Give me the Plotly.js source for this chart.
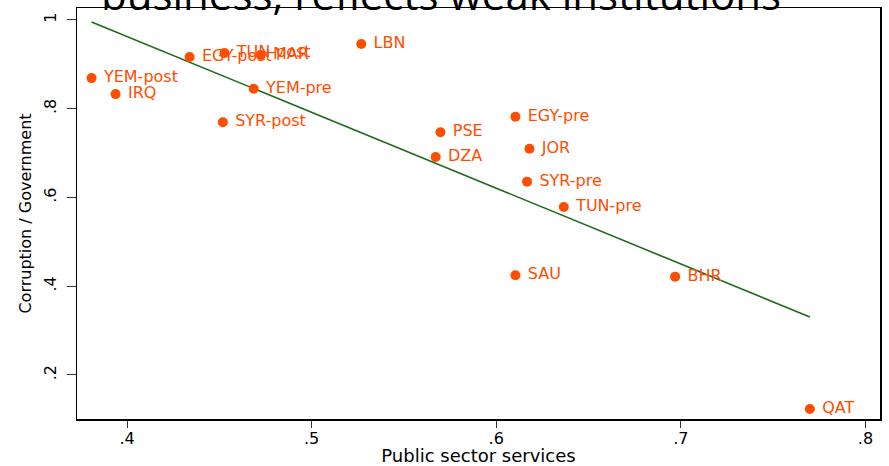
<!DOCTYPE html>
<html><head><meta charset="utf-8">
<script src="https://cdn.plot.ly/plotly-3.0.1.min.js"></script>
<style>body{margin:0;background:#fff}</style></head>
<body><div id="chart" style="width:889px;height:466px"></div>
<script>
const countryLabels = ["YEM-post","IRQ","EGY-post","TUN-post","MAR","LBN","YEM-pre","SYR-post","PSE","DZA","EGY-pre","JOR","SYR-pre","TUN-pre","SAU","BHR","QAT"];
const publicServices = [0.3808,0.3938,0.4339,0.4528,0.4724,0.5269,0.4686,0.4519,0.5698,0.5672,0.6104,0.6180,0.6167,0.6366,0.6104,0.6969,0.7699];
const corruption = [0.869,0.833,0.9166,0.9256,0.921,0.9459,0.8452,0.7695,0.7469,0.6913,0.782,0.710,0.6356,0.5786,0.4247,0.4216,0.1234];
const fitX = [0.3808, 0.7699];
const fitY = [0.9955, 0.3307];
const xTicks = [0.4,0.5,0.6,0.7,0.8];
const xTickLabels = [".4",".5",".6",".7",".8"];
const yTicks = [0.2,0.4,0.6,0.8,1];
const yTickLabels = [".2",".4",".6",".8","1"];

const orange = "#ff4d00";
const traces = [
  {x: fitX, y: fitY, mode: "lines", line: {color: "#1b6b1b", width: 1.6}, hoverinfo: "skip"},
  {x: publicServices, y: corruption, mode: "markers+text", text: countryLabels.map(s => "\u00a0" + s),
   textposition: "middle right", marker: {color: orange, size: 10},
   textfont: {family: "DejaVu Sans", size: 16, color: orange}, cliponaxis: false}
];
const axisCommon = {showgrid: false, zeroline: false, showline: true, mirror: true,
  linecolor: "#000", linewidth: 1.5, ticks: "outside", tickcolor: "#333", tickwidth: 1,
  tickfont: {family: "DejaVu Sans", size: 16, color: "#000"}};
const layout = {
  width: 889, height: 466, showlegend: false,
  margin: {l: 77, r: 9, t: 8, b: 47},
  paper_bgcolor: "#fff", plot_bgcolor: "#fff",
  xaxis: Object.assign({}, axisCommon, {range: [0.3729, 0.8079], tickvals: xTicks, ticktext: xTickLabels,
    ticklen: 7, ticklabelstandoff: -3,
    title: {text: "Public sector services", font: {family: "DejaVu Sans", size: 18, color: "#000"}, standoff: 2}}),
  yaxis: Object.assign({}, axisCommon, {range: [0.1008, 1.027], tickvals: yTicks, ticktext: yTickLabels, tickangle: -90,
    ticklen: 9, ticklabelstandoff: 4,
    title: {text: "Corruption / Government", font: {family: "DejaVu Sans", size: 16, color: "#000"}, standoff: 5}}),
  annotations: [{text: "business, reflects weak institutions", xref: "paper", yref: "paper",
    x: 0.4533, y: 0.96, xanchor: "center", yanchor: "bottom", showarrow: false,
    font: {family: "Open Sans", size: 42, color: "#000"}}]
};
Plotly.newPlot("chart", traces, layout, {displayModeBar: false, staticPlot: true});
</script></body></html>
